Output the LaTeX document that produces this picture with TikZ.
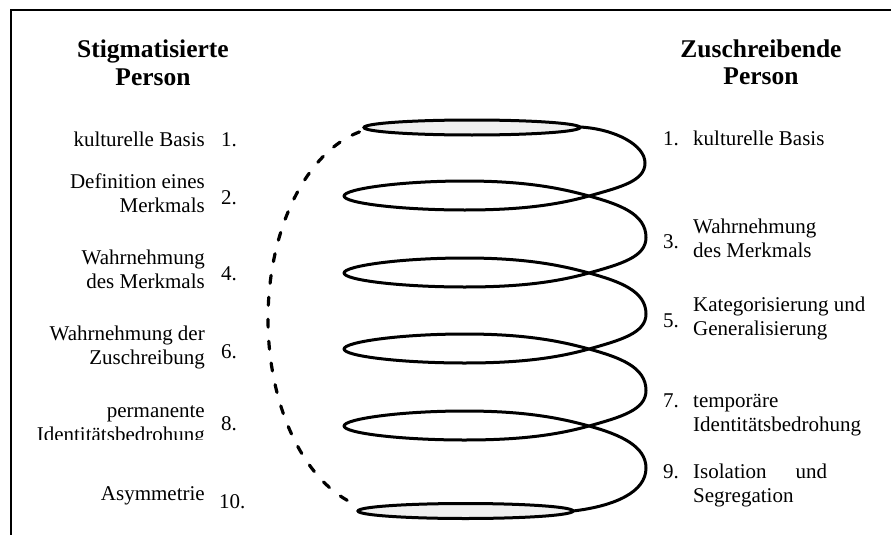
\documentclass[tikz,border=0pt]{standalone}
\usepackage{fontspec}
\setmainfont{Liberation Serif}
\usepackage{array}
\definecolor{ringfill}{RGB}{240,240,240}
% multi-line label whose baseline is that of its first line
\newcommand{\labstack}[2]{\begin{tabular}[t]{@{}#1@{}}#2\end{tabular}}
\begin{document}
\begin{tikzpicture}[x=1pt,y=-1pt,
  lbl/.style={font=\fontsize{21}{24}\selectfont, inner sep=0pt},
  head/.style={font=\bfseries\fontsize{25.5}{27.5}\selectfont, inner sep=0pt},
  frame/.style={line width=2pt},
  helix/.style={line width=3pt, line join=round, line cap=round},
  ring/.style={line width=3pt, fill=ringfill},
  backline/.style={line width=3.2pt, line cap=round, dash pattern=on 8pt off 14pt}]
\useasboundingbox (0,0) rectangle (891,535);

% open frame
\draw[frame] (11,535) -- (11,10.5) -- (891,10.5);

% top and bottom discs of the spiral
\draw[ring] (472,127.5) ellipse [x radius=108pt, y radius=7.5pt];
\draw[ring] (465.5,511) ellipse [x radius=107.5pt, y radius=7.5pt];

% hidden back side of the spiral
\draw[backline] plot[domain=103:257, samples=60, smooth]
  ({386+118*cos(\x)},{319-192*sin(\x)});

% the spiral: right-hand arcs joining the flat turns
\draw[helix] (580,127) .. controls (615,129) and (645,145) .. (645,163)
  .. controls (645,181) and (621,187) .. (589,196)
  \foreach \y/\n in {196/273,273/349,349/426} {
    .. controls (560,\y+8) and (525,\y+14) .. (465,\y+14)
    .. controls (400,\y+14) and (344,\y+7) .. (344,\y)
    .. controls (344,\y-7) and (400,\y-15) .. (465,\y-15)
    .. controls (525,\y-15) and (560,\y-8) .. (589,\y)
    .. controls (620,\y+8.5) and (646,\y+18) .. (646,{(\y+\n)/2+3})
    .. controls (646,\n-16) and (621,\n-9) .. (589,\n)
  }
  .. controls (560,434) and (525,440) .. (465,440)
  .. controls (400,440) and (344,433) .. (344,426)
  .. controls (344,419) and (400,411) .. (465,411)
  .. controls (525,411) and (560,418) .. (589,426)
  .. controls (620,434.5) and (646,446) .. (646,468)
  .. controls (646,492) and (615,506) .. (573,511);

% headings
\node[head, anchor=base] (hl) at (153,58) {\labstack{c}{Stigmatisierte\\Person}};
\node[head, anchor=base] (hr) at (761,57) {\labstack{c}{Zuschreibende\\Person}};

% stigmatised person
\node[lbl, anchor=base east] (l1) at (205,146) {kulturelle Basis};
\node[lbl, anchor=base west] (n1) at (221,146) {1.};
\node[lbl, anchor=base east] (l2) at (205,188) {\labstack{r}{Definition eines\\Merkmals}};
\node[lbl, anchor=base west] (n2) at (221,204) {2.};
\node[lbl, anchor=base east] (l4) at (205,264) {\labstack{r}{Wahrnehmung\\des Merkmals}};
\node[lbl, anchor=base west] (n4) at (221,280) {4.};
\node[lbl, anchor=base east] (l6) at (205,340) {\labstack{r}{Wahrnehmung der\\Zuschreibung}};
\node[lbl, anchor=base west] (n6) at (221,358) {6.};
\begin{scope}
  \clip (15,395) rectangle (215,439.5);
  \node[lbl, anchor=base east] (l8) at (205,417) {\labstack{r}{permanente\\Identitätsbedrohung}};
\end{scope}
\node[lbl, anchor=base west] (n8) at (221,430) {8.};
\node[lbl, anchor=base east] (l10) at (205,500) {Asymmetrie};
\node[lbl, anchor=base west] (n10) at (219,508) {10.};

% ascribing person
\node[lbl, anchor=base west] (m1) at (663,145) {1.};
\node[lbl, anchor=base west] (r1) at (693,145) {kulturelle Basis};
\node[lbl, anchor=base west] (m3) at (663,248) {3.};
\node[lbl, anchor=base west] (r3) at (693,233) {\labstack{l}{Wahrnehmung\\des Merkmals}};
\node[lbl, anchor=base west] (m5) at (663,327) {5.};
\node[lbl, anchor=base west] (r5) at (693,311) {\labstack{l}{Kategorisierung und\\Generalisierung}};
\node[lbl, anchor=base west] (m7) at (663,407) {7.};
\node[lbl, anchor=base west] (r7) at (693,407) {\labstack{l}{temporäre\\Identitätsbedrohung}};
\node[lbl, anchor=base west] (m9) at (663,478) {9.};
\node[lbl, anchor=base west] (r9) at (693,478) {\labstack{l}{\makebox[134pt][s]{Isolation und}\\Segregation}};
\end{tikzpicture}
\end{document}
